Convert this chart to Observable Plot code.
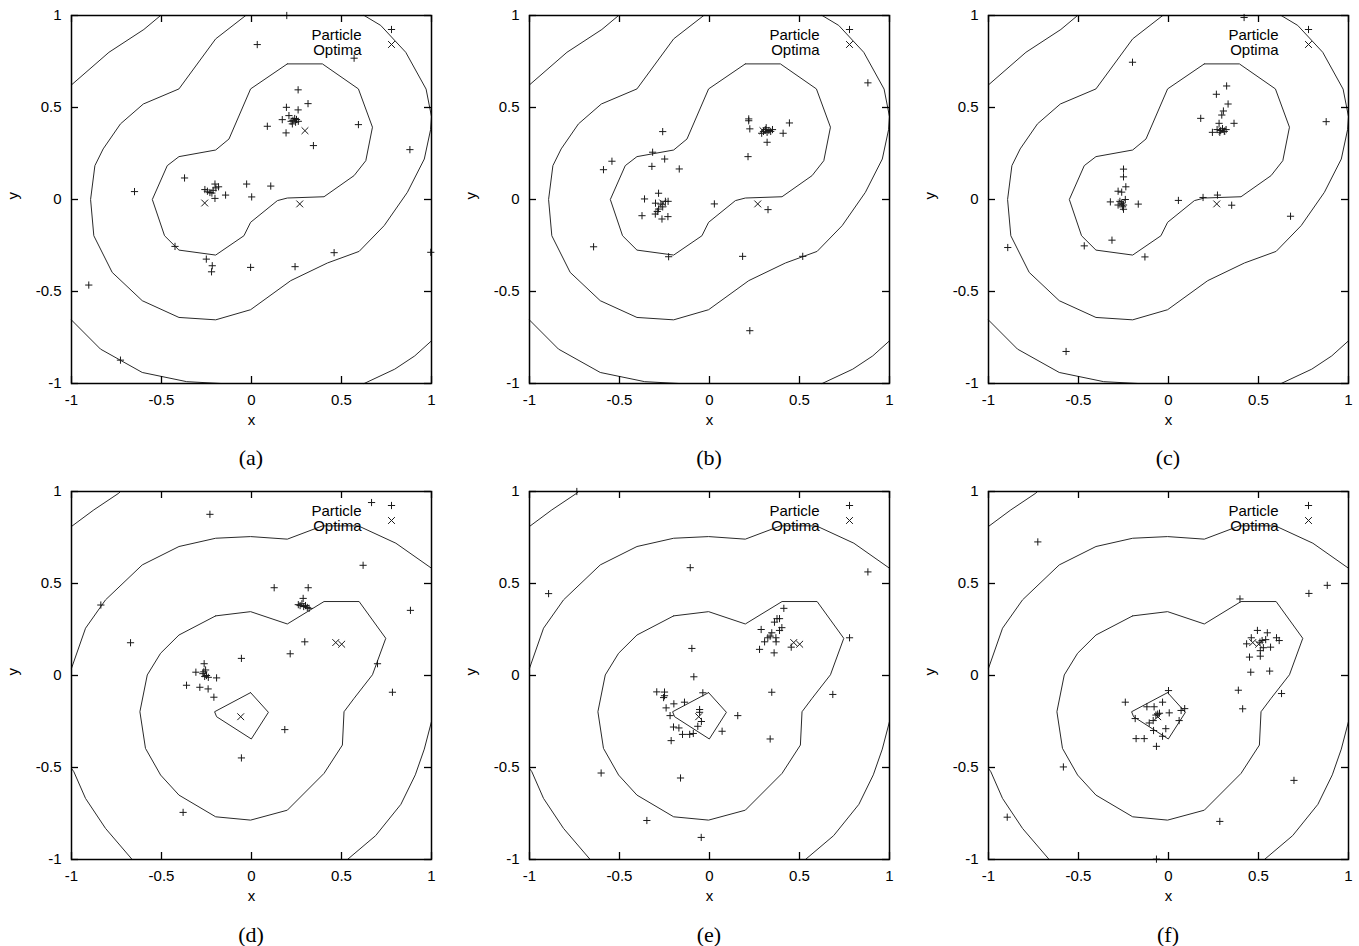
<!DOCTYPE html>
<html><head><meta charset="utf-8">
<script src="https://cdn.jsdelivr.net/npm/d3@7"></script>
<script src="https://cdn.jsdelivr.net/npm/@observablehq/plot@0.6"></script>
<style>
html,body{margin:0;padding:0;background:#fff;}
body{width:1359px;height:946px;position:relative;overflow:hidden;}
.panel{position:absolute;width:458px;}
.cap{position:absolute;width:360px;text-align:center;font-family:"Liberation Serif","Times New Roman",serif;font-size:22px;line-height:24px;color:#000;}
</style></head><body>
<script>
// ---- tick values & texts ----
const xTicks = [-1, -0.5, 0, 0.5, 1];
const yTicks = [-1, -0.5, 0, 0.5, 1];
const legendLabels = ["Particle", "Optima"];
const axisLabels = ["x", "y"];
const panelLabels = ["(a)", "(b)", "(c)", "(d)", "(e)", "(f)"];

// ---- contour lines, top row (a,b,c) ----
const contourTop1 = [[-1,0.623],[-0.792,0.80],[-0.598,0.924],[-0.505,1]];
const contourTop2 = [[-0.032,1],[-0.199,0.873],[-0.403,0.601],[-0.601,0.519],[-0.728,0.411],[-0.824,0.275],[-0.870,0.184],[-0.894,0.0],[-0.876,-0.197],[-0.774,-0.396],[-0.607,-0.550],[-0.403,-0.641],[-0.199,-0.654],[-0.005,-0.599],[0.218,-0.441],[0.422,-0.345],[0.598,-0.282],[0.737,-0.142],[0.866,0.039],[0.96,0.22],[0.995,0.38],[1.0,0.45],[0.97,0.60],[0.857,0.80],[0.718,0.946],[0.626,1]];
const contourTop3 = [[0.199,0.737],[0.394,0.737],[0.594,0.601],[0.672,0.393],[0.635,0.211],[0.570,0.130],[0.403,0.015],[0.199,0.008],[0.144,-0.006],[-0.005,-0.124],[-0.042,-0.197],[-0.199,-0.302],[-0.403,-0.275],[-0.483,-0.197],[-0.551,0.0],[-0.468,0.184],[-0.403,0.233],[-0.199,0.269],[-0.125,0.329],[-0.005,0.601],[0.199,0.737]];
const contourTop4 = [[-1,-0.655],[-0.839,-0.813],[-0.607,-0.940],[-0.36,-0.99],[-0.17,-1]];
const contourTop5 = [[0.626,-1],[0.796,-0.922],[0.907,-0.85],[1,-0.768]];

// ---- contour lines, bottom row (d,e,f) ----
const contourBot1 = [[-1,0.810],[-0.876,0.90],[-0.737,0.991],[-0.728,1]];
const contourBot2 = [[-1,0.039],[-0.922,0.257],[-0.811,0.411],[-0.607,0.601],[-0.403,0.701],[-0.199,0.746],[-0.005,0.755],[0.199,0.741],[0.394,0.813],[0.594,0.813],[0.802,0.719],[1,0.583]];
const contourBot3 = [[-1,-0.505],[-0.987,-0.523],[-0.922,-0.668],[-0.811,-0.831],[-0.663,-1]];
const contourBot4 = [[0.533,-1],[0.69,-0.87],[0.83,-0.70],[0.91,-0.54],[0.96,-0.40],[1,-0.25]];
const contourBot5 = [[-0.199,0.324],[-0.005,0.347],[0.199,0.280],[0.403,0.402],[0.598,0.402],[0.746,0.202],[0.672,0.004],[0.570,-0.124],[0.514,-0.197],[0.505,-0.378],[0.403,-0.532],[0.199,-0.732],[-0.005,-0.786],[-0.199,-0.768],[-0.403,-0.650],[-0.505,-0.541],[-0.589,-0.396],[-0.620,-0.197],[-0.579,0.003],[-0.505,0.121],[-0.403,0.220],[-0.199,0.324]];
const contourBot6 = [[-0.005,-0.093],[0.094,-0.200],[-0.001,-0.345],[-0.194,-0.224],[-0.205,-0.197],[-0.005,-0.093]];

// ---- optima ----
const optimaTop = [[-0.260,-0.019],[0.268,-0.024],[0.297,0.374]];
const optimaBot = [[-0.060,-0.224],[0.468,0.179],[0.501,0.170]];

// ---- particles per panel ----
const particlesA = [[0.196,1.0],[0.032,0.842],[0.570,0.768],[0.259,0.596],[0.314,0.521],[0.194,0.501],[0.259,0.487],[0.171,0.434],[0.208,0.456],[0.23,0.43],[0.24,0.44],[0.25,0.435],[0.26,0.425],[0.245,0.42],[0.22,0.425],[0.227,0.411],[0.088,0.398],[0.192,0.362],[0.344,0.293],[0.594,0.407],[0.880,0.271],[0.996,-0.287],[-0.372,0.117],[-0.650,0.043],[-0.259,0.054],[-0.245,0.045],[-0.231,0.038],[-0.213,0.05],[-0.198,0.063],[-0.183,0.069],[-0.22,0.035],[-0.203,0.084],[-0.203,0.006],[-0.144,0.024],[-0.027,0.084],[0.001,0.014],[0.107,0.073],[-0.425,-0.255],[-0.251,-0.324],[-0.218,-0.360],[-0.222,-0.393],[-0.005,-0.369],[0.242,-0.365],[0.459,-0.289],[-0.904,-0.465],[-0.728,-0.873]];
const particlesB = [[0.880,0.634],[0.218,0.438],[0.218,0.428],[0.224,0.384],[0.444,0.416],[0.409,0.360],[0.30,0.37],[0.31,0.38],[0.32,0.365],[0.33,0.375],[0.34,0.37],[0.35,0.38],[0.315,0.39],[0.29,0.36],[0.320,0.311],[0.214,0.233],[-0.260,0.369],[-0.316,0.257],[-0.249,0.220],[-0.320,0.180],[-0.542,0.208],[-0.589,0.162],[-0.168,0.166],[-0.283,0.034],[-0.361,0.003],[-0.30,-0.02],[-0.27,-0.025],[-0.245,-0.01],[-0.23,-0.01],[-0.375,-0.088],[-0.301,-0.079],[-0.264,-0.106],[-0.231,-0.093],[-0.283,-0.052],[-0.29,-0.065],[-0.26,-0.04],[0.027,-0.024],[0.325,-0.055],[-0.644,-0.257],[-0.227,-0.311],[0.184,-0.309],[0.518,-0.309],[0.224,-0.713]];
const particlesC = [[0.420,0.989],[-0.200,0.746],[0.323,0.617],[0.266,0.572],[0.331,0.519],[0.305,0.481],[0.296,0.459],[0.179,0.441],[0.281,0.414],[0.364,0.414],[0.27,0.38],[0.29,0.375],[0.30,0.385],[0.31,0.37],[0.32,0.38],[0.285,0.365],[0.244,0.365],[0.876,0.423],[-0.250,0.165],[-0.250,0.123],[-0.237,0.069],[-0.28,0.045],[-0.26,0.04],[-0.27,-0.01],[-0.26,-0.02],[-0.25,-0.03],[-0.255,-0.04],[-0.28,-0.03],[-0.24,0.0],[-0.323,-0.013],[-0.250,-0.053],[-0.168,-0.025],[0.055,-0.005],[0.192,0.011],[0.272,0.024],[0.351,-0.031],[0.678,-0.091],[-0.314,-0.221],[-0.468,-0.252],[-0.131,-0.312],[-0.893,-0.261],[-0.569,-0.826]];
const particlesD = [[0.667,0.940],[-0.231,0.876],[0.620,0.599],[0.126,0.477],[0.315,0.477],[0.287,0.419],[0.27,0.38],[0.28,0.39],[0.29,0.375],[0.30,0.38],[0.31,0.37],[0.32,0.365],[0.26,0.385],[0.883,0.354],[-0.837,0.383],[-0.672,0.178],[0.296,0.183],[0.215,0.118],[-0.056,0.093],[0.700,0.064],[-0.263,0.064],[-0.309,0.018],[-0.27,0.01],[-0.26,-0.005],[-0.25,0.0],[-0.265,0.02],[-0.255,0.03],[-0.24,-0.01],[-0.194,-0.013],[-0.361,-0.053],[-0.287,-0.064],[-0.241,-0.073],[-0.209,-0.118],[0.783,-0.091],[0.185,-0.294],[-0.056,-0.448],[-0.380,-0.744]];
const particlesE = [[-0.737,1.0],[-0.107,0.586],[-0.894,0.445],[0.880,0.563],[0.413,0.365],[0.389,0.309],[0.375,0.309],[0.361,0.290],[0.402,0.260],[0.389,0.245],[0.287,0.250],[0.346,0.232],[0.337,0.214],[0.369,0.205],[0.370,0.183],[0.306,0.183],[0.324,0.205],[0.278,0.142],[0.359,0.123],[0.454,0.154],[0.778,0.205],[-0.098,0.147],[-0.087,-0.007],[-0.293,-0.089],[-0.25,-0.09],[-0.25,-0.11],[-0.255,-0.12],[-0.037,-0.094],[-0.198,-0.154],[-0.241,-0.176],[-0.139,-0.145],[-0.219,-0.218],[-0.20,-0.28],[-0.17,-0.285],[-0.213,-0.354],[-0.15,-0.32],[-0.11,-0.32],[-0.09,-0.315],[-0.065,-0.276],[-0.055,-0.20],[-0.055,-0.185],[-0.045,-0.25],[0.070,-0.303],[0.157,-0.218],[0.346,-0.091],[0.337,-0.345],[0.685,-0.103],[-0.602,-0.530],[-0.161,-0.557],[-0.348,-0.788],[-0.046,-0.880]];
const particlesF = [[-0.726,0.726],[0.882,0.490],[0.780,0.446],[0.397,0.416],[0.494,0.245],[0.549,0.232],[0.46,0.205],[0.52,0.19],[0.54,0.195],[0.60,0.205],[0.615,0.19],[0.434,0.172],[0.508,0.181],[0.567,0.154],[0.527,0.151],[0.51,0.135],[0.45,0.10],[0.51,0.105],[0.457,0.018],[0.562,0.024],[0.388,-0.080],[0.628,-0.098],[0.412,-0.181],[0.0,-0.082],[-0.240,-0.145],[-0.12,-0.17],[-0.08,-0.17],[-0.033,-0.145],[0.07,-0.19],[0.09,-0.18],[-0.185,-0.234],[-0.06,-0.21],[-0.05,-0.205],[-0.07,-0.215],[0.004,-0.203],[-0.085,-0.245],[0.059,-0.245],[-0.107,-0.258],[-0.083,-0.299],[-0.015,-0.289],[-0.033,-0.330],[-0.18,-0.343],[-0.135,-0.343],[-0.067,-0.385],[-0.584,-0.497],[0.697,-0.570],[0.285,-0.793],[-0.896,-0.770],[-0.067,-0.998]];

const contoursTop = [contourTop1, contourTop2, contourTop3, contourTop4, contourTop5];
const contoursBot = [contourBot1, contourBot2, contourBot3, contourBot4, contourBot5, contourBot6];

// ---- symbols (gnuplot-like stroked + and x) ----
const plusSymbol = {draw(ctx, size) { const r = Math.sqrt(size / Math.PI); ctx.moveTo(-r, 0); ctx.lineTo(r, 0); ctx.moveTo(0, -r); ctx.lineTo(0, r); }};
const timesSymbol = {draw(ctx, size) { const r = Math.sqrt(size / Math.PI); ctx.moveTo(-r, -r); ctx.lineTo(r, r); ctx.moveTo(-r, r); ctx.lineTo(r, -r); }};

const ML = 71, MR = 27, MT = 15, MB = 50, PW = 360, PH = 368, TICK = 7;
const fmt = d => String(d);

function makePanel(particles, optima, contours) {
  return Plot.plot({
    width: ML + PW + MR,
    height: MT + PH + MB,
    marginLeft: ML, marginRight: MR, marginTop: MT, marginBottom: MB,
    style: {fontFamily: '"Liberation Sans", Arial, Helvetica, sans-serif', fontSize: "15px", color: "#000", background: "transparent", overflow: "visible"},
    x: {domain: [-1, 1], label: null},
    y: {domain: [-1, 1], label: null},
    marks: [
      ...contours.map(c => Plot.line(c, {x: d => d[0], y: d => d[1], stroke: "#2a2a2a", strokeWidth: 1})),
      Plot.dot(particles, {x: d => d[0], y: d => d[1], symbol: plusSymbol, r: 3.6, stroke: "#1a1a1a", fill: "none", strokeWidth: 1}),
      Plot.dot(optima, {x: d => d[0], y: d => d[1], symbol: timesSymbol, r: 3.4, stroke: "#1a1a1a", fill: "none", strokeWidth: 1}),
      Plot.tickX(xTicks, {x: d => d, insetTop: PH - TICK, stroke: "#000", strokeWidth: 1.3}),
      Plot.tickX(xTicks, {x: d => d, insetBottom: PH - TICK, stroke: "#000", strokeWidth: 1.3}),
      Plot.tickY(yTicks, {y: d => d, insetLeft: PW - TICK, stroke: "#000", strokeWidth: 1.3}),
      Plot.tickY(yTicks, {y: d => d, insetRight: PW - TICK, stroke: "#000", strokeWidth: 1.3}),
      Plot.axisX(xTicks, {anchor: "bottom", tickSize: 0, tickPadding: 11, tickFormat: fmt, label: null}),
      Plot.axisY(yTicks, {anchor: "left", tickSize: 0, tickPadding: 10, tickFormat: fmt, label: null}),
      Plot.frame({stroke: "#000", strokeWidth: 1.5}),
      Plot.text([axisLabels[0]], {frameAnchor: "bottom", dy: 41, text: d => d}),
      Plot.text([axisLabels[1]], {frameAnchor: "left", dx: -58, rotate: -90, text: d => d}),
      Plot.text([legendLabels[0]], {frameAnchor: "top-right", dx: -70, dy: 14, textAnchor: "end", text: d => d}),
      Plot.text([legendLabels[1]], {frameAnchor: "top-right", dx: -70, dy: 29, textAnchor: "end", text: d => d}),
      Plot.dot([0], {frameAnchor: "top-right", dx: -40, dy: 14, symbol: plusSymbol, r: 3.6, stroke: "#1a1a1a", fill: "none", strokeWidth: 1}),
      Plot.dot([0], {frameAnchor: "top-right", dx: -40, dy: 29, symbol: timesSymbol, r: 3.4, stroke: "#1a1a1a", fill: "none", strokeWidth: 1})
    ]
  });
}

const panels = [
  {p: particlesA, o: optimaTop, c: contoursTop},
  {p: particlesB, o: optimaTop, c: contoursTop},
  {p: particlesC, o: optimaTop, c: contoursTop},
  {p: particlesD, o: optimaBot, c: contoursBot},
  {p: particlesE, o: optimaBot, c: contoursBot},
  {p: particlesF, o: optimaBot, c: contoursBot}
];
const colLeft = [0, 458, 917];
const rowTop = [0, 476];
const capCenter = [458, 935];

panels.forEach((pn, i) => {
  const col = i % 3, row = Math.floor(i / 3);
  const wrap = document.createElement("div");
  wrap.className = "panel";
  wrap.style.left = colLeft[col] + "px";
  wrap.style.top = rowTop[row] + "px";
  wrap.appendChild(makePanel(pn.p, pn.o, pn.c));
  document.body.appendChild(wrap);
  const cap = document.createElement("div");
  cap.className = "cap";
  cap.textContent = panelLabels[i];
  cap.style.left = (colLeft[col] + ML) + "px";
  cap.style.top = (capCenter[row] - 12) + "px";
  document.body.appendChild(cap);
});
</script>
</body></html>
